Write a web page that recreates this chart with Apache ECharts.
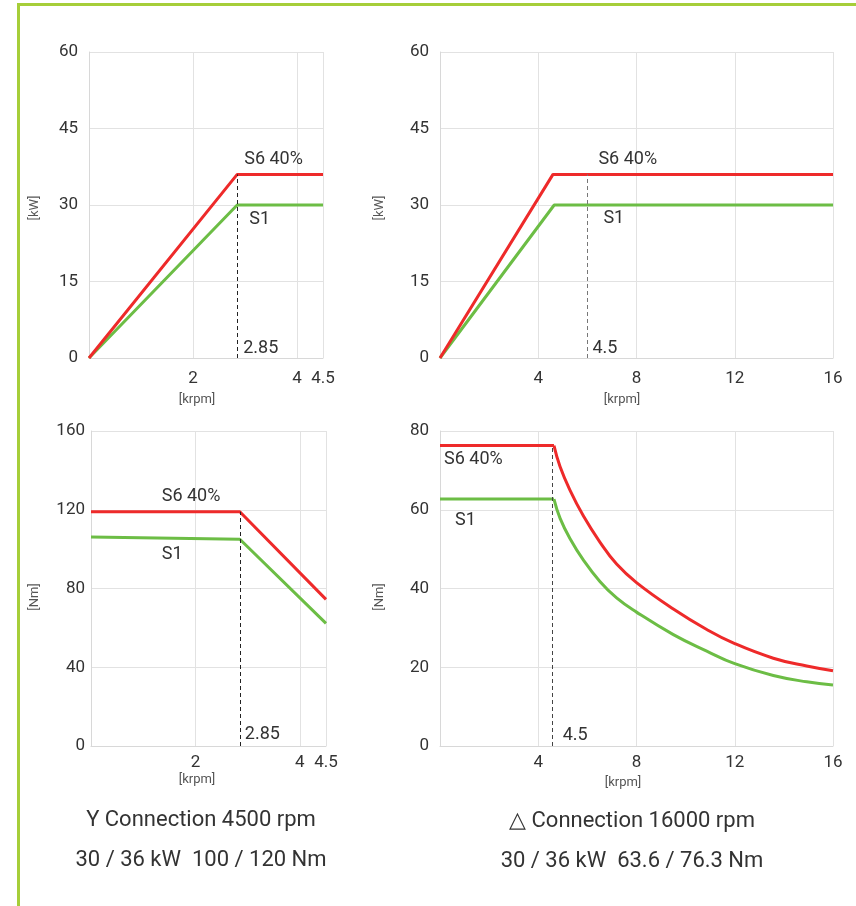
<!DOCTYPE html>
<html><head><meta charset="utf-8">
<script src="https://cdn.jsdelivr.net/npm/echarts@6/dist/echarts.min.js"></script>
<style>html,body{margin:0;padding:0;background:#fff}#c{width:856px;height:906px}</style>
</head><body><div id="c"></div>
<script>
// ---------- data ----------
const yConnPowerSpeed = [0, 2.85, 4.5];
const yConnPowerS6 = [0, 36, 36];
const yConnPowerS1 = [0, 30, 30];
const dConnPowerSpeedS6 = [0, 4.6, 16];
const dConnPowerS6 = [0, 36, 36];
const dConnPowerSpeedS1 = [0, 4.65, 16];
const dConnPowerS1 = [0, 30, 30];
const yConnTorqueSpeed = [0, 2.85, 4.5];
const yConnTorqueS6 = [119, 119, 74.5];
const yConnTorqueS1 = [106.2, 105, 62.3];
const dConnTorqueSpeed = [0, 4.64, 4.89, 5.29, 5.84, 6.51, 7.19, 8.0, 9.5, 10.86, 12, 13.57, 14.93, 16];
const dConnTorqueS6 = [76.3, 76.3, 70.9, 65.0, 58.4, 51.8, 46.2, 41.5, 34.8, 29.6, 26.0, 22.3, 20.3, 19.1];
const dConnTorqueS1 = [62.7, 62.7, 57.8, 52.7, 47.2, 41.8, 37.6, 34.0, 28.3, 24.1, 20.9, 17.9, 16.3, 15.5];
const markerSpeeds = [2.85, 6.0, 2.85, 4.59];
const markerTops = [36, 36, 119, 76.3];
const markerLabels = ['2.85', '4.5', '2.85', '4.5'];
const seriesNames = ['S6 40%', 'S1'];
const xMaxes = [4.5, 16, 4.5, 16];
const xIntervals = [2, 4, 2, 4];
const yMaxes = [60, 60, 160, 80];
const yIntervals = [15, 15, 40, 20];
const yUnits = ['[kW]', '[kW]', '[Nm]', '[Nm]'];
const xUnit = '[krpm]';
const titlesLeft = ['Y Connection 4500 rpm', '30 / 36 kW  100 / 120 Nm'];
const titlesRight = ['\u25B3 Connection 16000 rpm', '30 / 36 kW  63.6 / 76.3 Nm'];

// ---------- style ----------
const RED = '#ee2a2a', GREEN = '#6cbd45', TXT = '#333333', GRID = '#e2e2e2';
const FONT = 'Roboto, "Noto Sans", sans-serif';
const zip = (xs, ys) => xs.map((x, i) => [x, ys[i]]);

const grids = [
  {left: 89, top: 52, width: 234, height: 306},
  {left: 440, top: 52, width: 393, height: 306},
  {left: 91, top: 431, width: 235, height: 315},
  {left: 440, top: 431, width: 393, height: 315}
];
const dashColors = ['#222', '#777', '#222', '#444'];

const xAxes = grids.map((g, i) => ({
  type: 'value', gridIndex: i, min: 0, max: xMaxes[i], interval: xIntervals[i],
  axisLine: {show: true, lineStyle: {color: '#d8d8d8', width: 1}},
  axisTick: {show: false},
  splitLine: {show: true, lineStyle: {color: GRID, width: 1}},
  axisLabel: {formatter: v => v === 0 ? '' : String(v), color: TXT, fontSize: 17, fontFamily: FONT, margin: i < 2 ? 12 : 8}
}));
const yAxes = grids.map((g, i) => ({
  type: 'value', gridIndex: i, min: 0, max: yMaxes[i], interval: yIntervals[i],
  axisLine: {show: true, lineStyle: {color: '#d8d8d8', width: 1}},
  axisTick: {show: false},
  splitLine: {show: true, lineStyle: {color: GRID, width: 1}},
  axisLabel: {color: TXT, fontSize: 17, fontFamily: FONT, margin: i === 2 ? 6 : 11}
}));

function line(name, idx, data, color, smooth, markIdx) {
  const s = {
    type: 'line', name, xAxisIndex: idx, yAxisIndex: idx, data, symbol: 'none',
    smooth: smooth ? 0.45 : false,
    lineStyle: {color, width: 3}, itemStyle: {color}, animation: false, silent: true
  };
  if (markIdx !== undefined) {
    s.markLine = {
      silent: true, symbol: ['none', 'none'], label: {show: false}, animation: false,
      lineStyle: {type: [4, 3], color: dashColors[markIdx], width: 1},
      data: [[{coord: [markerSpeeds[markIdx], 0]}, {coord: [markerSpeeds[markIdx], markerTops[markIdx]]}]]
    };
  }
  return s;
}

const series = [
  line(seriesNames[1], 0, zip(yConnPowerSpeed, yConnPowerS1), GREEN),
  line(seriesNames[0], 0, zip(yConnPowerSpeed, yConnPowerS6), RED, false, 0),
  line(seriesNames[1], 1, zip(dConnPowerSpeedS1, dConnPowerS1), GREEN),
  line(seriesNames[0], 1, zip(dConnPowerSpeedS6, dConnPowerS6), RED, false, 1),
  line(seriesNames[1], 2, zip(yConnTorqueSpeed, yConnTorqueS1), GREEN),
  line(seriesNames[0], 2, zip(yConnTorqueSpeed, yConnTorqueS6), RED, false, 2),
  line(seriesNames[1], 3, zip(dConnTorqueSpeed, dConnTorqueS1).slice(0, 2), GREEN),
  line(seriesNames[1], 3, zip(dConnTorqueSpeed, dConnTorqueS1).slice(1), GREEN, true),
  line(seriesNames[0], 3, zip(dConnTorqueSpeed, dConnTorqueS6).slice(0, 2), RED, false, 3),
  line(seriesNames[0], 3, zip(dConnTorqueSpeed, dConnTorqueS6).slice(1), RED, true)
];

const chart = echarts.init(document.getElementById('c'), null, {renderer: 'canvas'});
chart.setOption({
  animation: false,
  backgroundColor: '#fff',
  textStyle: {fontFamily: FONT},
  grid: grids.map(g => Object.assign({containLabel: false, outerBoundsMode: 'none'}, g)),
  xAxis: xAxes, yAxis: yAxes, series
});

// annotations anchored to data coordinates
const annots = [
  {g: 0, at: [markerSpeeds[0], yConnPowerS6[1]], off: [7, -15], text: seriesNames[0]},
  {g: 0, at: [markerSpeeds[0], yConnPowerS1[1]], off: [12, 14], text: seriesNames[1]},
  {g: 0, at: [markerSpeeds[0], 0], off: [6, -10], text: markerLabels[0]},
  {g: 1, at: [markerSpeeds[1], dConnPowerS6[1]], off: [11, -15], text: seriesNames[0]},
  {g: 1, at: [markerSpeeds[1], dConnPowerS1[1]], off: [16, 13], text: seriesNames[1]},
  {g: 1, at: [markerSpeeds[1], 0], off: [5, -10], text: markerLabels[1]},
  {g: 2, at: [1.354, yConnTorqueS6[0]], off: [0, -15], text: seriesNames[0]},
  {g: 2, at: [1.354, yConnTorqueS6[0]], off: [0, 43], text: seriesNames[1]},
  {g: 2, at: [markerSpeeds[2], 0], off: [5, -12], text: markerLabels[2]},
  {g: 3, at: [0, dConnTorqueS6[0]], off: [4, 14], text: seriesNames[0]},
  {g: 3, at: [0, dConnTorqueS1[0]], off: [15, 21], text: seriesNames[1]},
  {g: 3, at: [markerSpeeds[3], 0], off: [10, -11], text: markerLabels[3]}
];
const graphic = [];
annots.forEach(a => {
  const p = chart.convertToPixel({gridIndex: a.g}, a.at);
  graphic.push({type: 'text', x: p[0] + a.off[0], y: p[1] + a.off[1], silent: true,
    style: {text: a.text, fill: TXT, font: '18px ' + FONT, align: 'left', verticalAlign: 'middle'}});
});
// unit labels
[[35, 208, 0], [380, 208, 1], [35, 597, 2], [380, 597, 3]].forEach(([x, y, i]) => {
  graphic.push({type: 'text', x, y, rotation: Math.PI / 2, silent: true,
    style: {text: yUnits[i], fill: '#555', font: '13px ' + FONT, align: 'center', verticalAlign: 'middle'}});
});
[[197, 400], [622, 400], [197, 780], [623, 783]].forEach(([x, y]) => {
  graphic.push({type: 'text', x, y, silent: true,
    style: {text: xUnit, fill: '#555', font: '13px ' + FONT, align: 'center', verticalAlign: 'middle'}});
});
// captions
[[201, 820, titlesLeft[0]], [201, 860, titlesLeft[1]], [632, 821, titlesRight[0]], [632, 861, titlesRight[1]]].forEach(([x, y, t]) => {
  graphic.push({type: 'text', x, y, silent: true,
    style: {text: t, fill: TXT, font: '22px ' + FONT, align: 'center', verticalAlign: 'middle'}});
});
// green frame
graphic.push({type: 'line', silent: true, shape: {x1: 17, y1: 4.5, x2: 856, y2: 4.5}, style: {stroke: '#a6ce39', lineWidth: 3}});
graphic.push({type: 'line', silent: true, shape: {x1: 18.5, y1: 3, x2: 18.5, y2: 906}, style: {stroke: '#a6ce39', lineWidth: 3}});
chart.setOption({graphic});
</script></body></html>
